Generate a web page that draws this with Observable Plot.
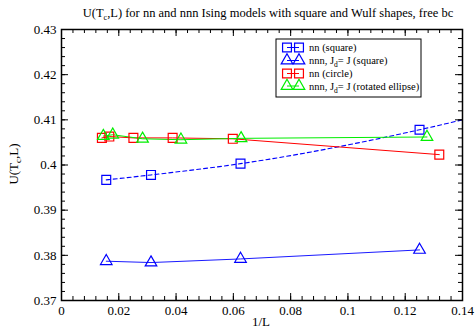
<!DOCTYPE html>
<html><head><meta charset="utf-8">
<script src="https://cdn.jsdelivr.net/npm/d3@7"></script>
<script src="https://cdn.jsdelivr.net/npm/@observablehq/plot@0.6"></script>
<style>body{margin:0;background:#fff} svg{display:block}</style>
</head><body><div id="chart"></div>
<script>
// ---- data ----
const xSquare = [1/64, 1/32, 1/16, 1/8];
const uNnSquare = [0.3967, 0.3978, 0.4003, 0.4078];
const uNnnSquare = [0.3787, 0.3784, 0.3792, 0.3812];
const xFit = [1/64, 1/32, 1/16, 1/8, 0.14];
const uFit = [0.3967, 0.3978, 0.4003, 0.4078, 0.4100];
const xCircle = [0.0141, 0.0167, 0.0251, 0.0388, 0.0598, 0.1319];
const uNnCircle = [0.4060, 0.4063, 0.4060, 0.4060, 0.4058, 0.4023];
const xEllipse = [0.0146, 0.0179, 0.0283, 0.0417, 0.0627, 0.1276];
const uNnnEllipse = [0.4064, 0.4067, 0.4058, 0.4056, 0.4059, 0.4062];

const xTicks = [0, 0.02, 0.04, 0.06, 0.08, 0.1, 0.12, 0.14];
const xTickLabels = ["0", "0.02", "0.04", "0.06", "0.08", "0.1", "0.12", "0.14"];
const yTicks = [0.37, 0.38, 0.39, 0.40, 0.41, 0.42, 0.43];
const yTickLabels = ["0.37", "0.38", "0.39", "0.4", "0.41", "0.42", "0.43"];
const xMinor = d3.range(0, 36).map(i => i * 0.004).filter(v => v <= 0.1401);
const yMinor = d3.range(0, 31).map(i => 0.37 + i * 0.002);

const seriesNames = [["nn (square)"], ["nnn, J", "d", "= J (square)"], ["nn (circle)"], ["nnn, J", "d", "= J (rotated ellipse)"]];
const seriesColors = ["#0000ff", "#0000ff", "#ff0000", "#00ee00"];
const seriesSymbols = ["square", "triangle", "square", "triangle"];

// ---- layout ----
const W = 475, H = 329, mL = 61, mR = 13, mT = 29, mB = 29;
const fW = W - mL - mR, fH = H - mT - mB;
const font = "'Liberation Serif', 'Times New Roman', serif";
const rSq = 5.0, rTri = 4.3;

const marks = [
  Plot.line(xFit, {x: xFit, y: uFit, stroke: seriesColors[0], strokeWidth: 1.1, strokeDasharray: "4,3", curve: "monotone-x"}),
  Plot.line(xSquare, {x: xSquare, y: uNnnSquare, stroke: seriesColors[1], strokeWidth: 0.9}),
  Plot.line(xCircle, {x: xCircle, y: uNnCircle, stroke: seriesColors[2], strokeWidth: 1}),
  Plot.line(xEllipse, {x: xEllipse, y: uNnnEllipse, stroke: seriesColors[3], strokeWidth: 1}),
  Plot.dot(xSquare, {x: xSquare, y: uNnSquare, symbol: "square", r: rSq, stroke: seriesColors[0], fill: "none", strokeWidth: 1.2}),
  Plot.dot(xSquare, {x: xSquare, y: uNnnSquare, symbol: "triangle", r: rTri, stroke: seriesColors[1], fill: "none", strokeWidth: 1.2}),
  Plot.dot(xCircle, {x: xCircle, y: uNnCircle, symbol: "square", r: rSq, stroke: seriesColors[2], fill: "none", strokeWidth: 1.2}),
  Plot.dot(xEllipse, {x: xEllipse, y: uNnnEllipse, symbol: "triangle", r: rTri, stroke: seriesColors[3], fill: "none", strokeWidth: 1.2}),
  // inward ticks on all four sides
  Plot.tickX(xTicks, {x: d => d, insetTop: fH - 7, stroke: "black"}),
  Plot.tickX(xTicks, {x: d => d, insetBottom: fH - 7, stroke: "black"}),
  Plot.tickX(xMinor, {x: d => d, insetTop: fH - 4, stroke: "black"}),
  Plot.tickX(xMinor, {x: d => d, insetBottom: fH - 4, stroke: "black"}),
  Plot.tickY(yTicks, {y: d => d, insetRight: fW - 7, stroke: "black"}),
  Plot.tickY(yTicks, {y: d => d, insetLeft: fW - 7, stroke: "black"}),
  Plot.tickY(yMinor, {y: d => d, insetRight: fW - 4, stroke: "black"}),
  Plot.tickY(yMinor, {y: d => d, insetLeft: fW - 4, stroke: "black"}),
  Plot.frame({stroke: "black", strokeWidth: 1.5}),
  Plot.axisX({ticks: xTicks, tickSize: 0, tickPadding: 5, tickFormat: d => xTickLabels[xTicks.indexOf(d)], label: null, fontSize: 13}),
  Plot.axisY({ticks: yTicks, tickSize: 0, tickPadding: 5, tickFormat: d => yTickLabels[yTicks.indexOf(d)], label: null, fontSize: 13})
];

const chart = Plot.plot({
  width: W, height: H, marginLeft: mL, marginRight: mR, marginTop: mT, marginBottom: mB,
  style: {fontFamily: font, fontSize: "13px", background: "white", color: "black", overflow: "visible"},
  x: {domain: [0, 0.14]},
  y: {domain: [0.37, 0.43]},
  marks
});
document.getElementById("chart").appendChild(chart);

const svg = d3.select(chart);
svg.selectAll("text").style("fill", "black");

// title
const t = svg.append("text").attr("x", 268).attr("y", 17).attr("text-anchor", "middle")
  .attr("font-family", font).attr("font-size", 12.5).attr("fill", "black");
t.append("tspan").text("U(T");
t.append("tspan").attr("dy", 3).attr("font-size", 8).text("c");
t.append("tspan").attr("dy", -3).text(",L) for nn and nnn Ising models with square and Wulf shapes, free bc");

// x label
svg.append("text").attr("x", 261).attr("y", 326).attr("text-anchor", "middle")
  .attr("font-family", font).attr("font-size", 13).attr("fill", "black").text("1/L");

// y label
const yl = svg.append("text").attr("transform", "translate(18,164) rotate(-90)").attr("text-anchor", "middle")
  .attr("font-family", font).attr("font-size", 13).attr("fill", "black");
yl.append("tspan").text("U(T");
yl.append("tspan").attr("dy", 3).attr("font-size", 9).text("c");
yl.append("tspan").attr("dy", -3).text(",L)");

// legend
const lg = svg.append("g");
lg.append("rect").attr("x", 276).attr("y", 39).attr("width", 145).attr("height", 58)
  .attr("fill", "white").attr("stroke", "black").attr("stroke-width", 1);
const rowY = [47.5, 60.5, 73.5, 86];
seriesNames.forEach((parts, i) => {
  const y = rowY[i];
  const c = seriesColors[i];
  lg.append("line").attr("x1", 287).attr("x2", 299).attr("y1", y).attr("y2", y).attr("stroke", c).attr("stroke-width", 1);
  const r = seriesSymbols[i] === "square" ? rSq : rTri;
  const sym = d3.symbol(seriesSymbols[i] === "square" ? d3.symbolSquare : d3.symbolTriangle, r * r * Math.PI);
  [287, 299].forEach(x => lg.append("path").attr("d", sym()).attr("transform", `translate(${x},${y})`)
    .attr("fill", "none").attr("stroke", c).attr("stroke-width", 1.2));
  const tx = lg.append("text").attr("x", 309).attr("y", y + 3.5).attr("font-family", font)
    .attr("text-anchor", "start").attr("font-size", 10.5).attr("fill", "black");
  if (parts.length === 1) tx.text(parts[0]);
  else {
    tx.append("tspan").text(parts[0]);
    tx.append("tspan").attr("dy", 3).attr("font-size", 7.5).text(parts[1]);
    tx.append("tspan").attr("dy", -3).text(parts[2]);
  }
});
</script>
</body></html>
